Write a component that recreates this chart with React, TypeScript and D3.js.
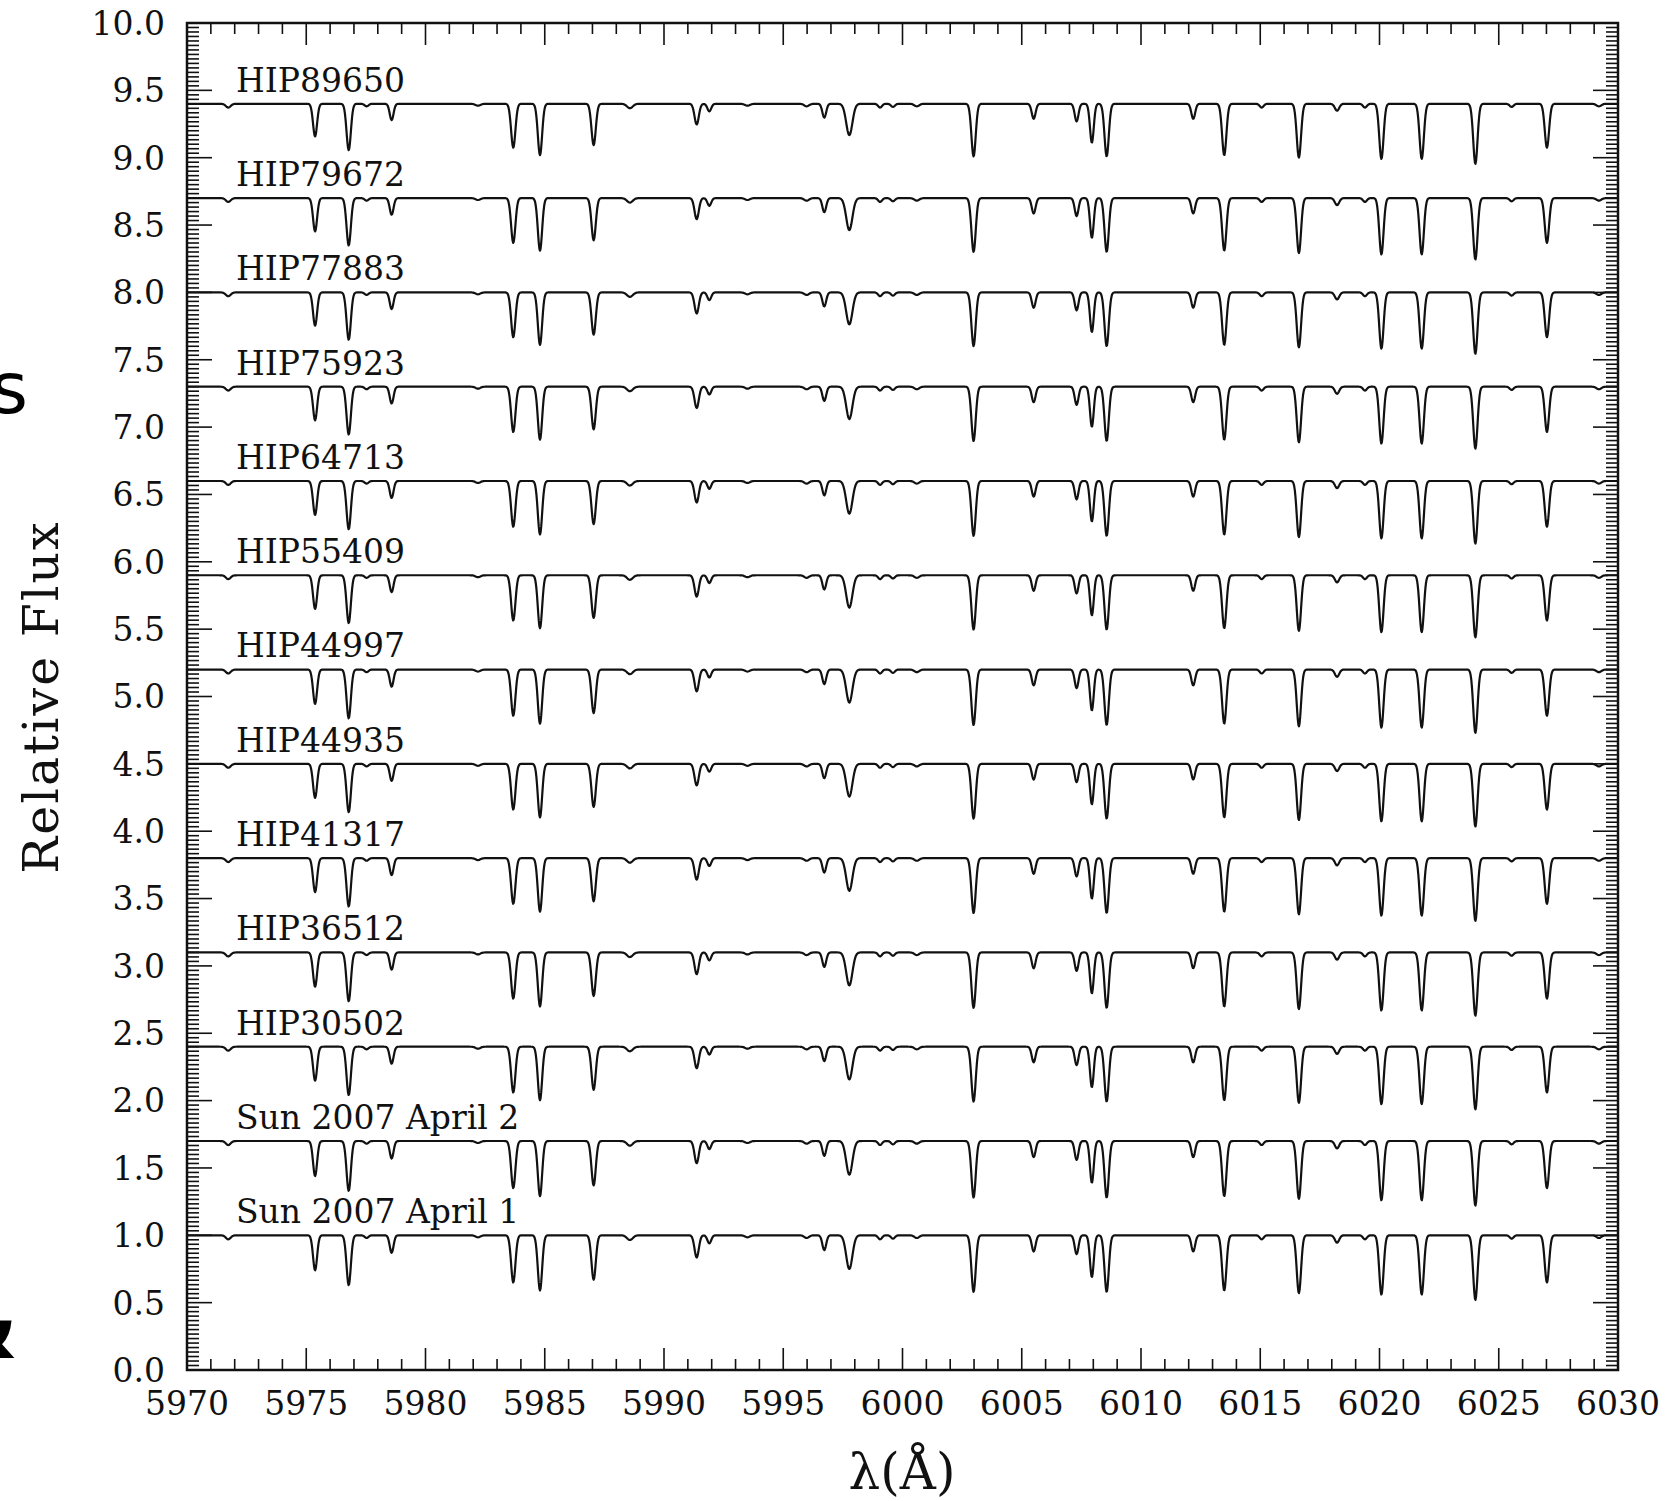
import React from "react";
import * as d3 from "d3";

// spectra, top to bottom
const STARS = [
  "HIP89650", "HIP79672", "HIP77883", "HIP75923", "HIP64713", "HIP55409",
  "HIP44997", "HIP44935", "HIP41317", "HIP36512", "HIP30502",
  "Sun 2007 April 2", "Sun 2007 April 1",
];
// continuum level of each spectrum (offset by 0.7)
const CONTINUUM = [9.4, 8.7, 8.0, 7.3, 6.6, 5.9, 5.2, 4.5, 3.8, 3.1, 2.4, 1.7, 1.0];
// how deep the lines look in each spectrum relative to the Sun
const DEPTH_SCALE = [0.93, 0.95, 0.95, 0.96, 0.97, 0.96, 0.98, 0.97, 0.97, 0.98, 0.97, 1.0, 1.0];

// absorption lines: centre (A), depth, gaussian sigma (A)
const LINE_CENTERS = [
  5971.73, 5975.37, 5976.78, 5977.53, 5978.58, 5982.2, 5983.68, 5984.80, 5987.05,
  5988.57, 5991.37, 5991.90, 5993.5, 5995.98, 5996.72, 5997.77, 5999.06, 5999.60,
  6000.60, 6002.98, 6005.50, 6007.30, 6007.94, 6008.56, 6012.19, 6013.49, 6015.06,
  6016.62, 6018.22, 6019.39, 6020.08, 6021.77, 6024.02, 6025.54, 6027.02, 6029.2,
];
const LINE_DEPTHS = [
  0.03, 0.26, 0.37, 0.02, 0.13, 0.015, 0.35, 0.41, 0.33,
  0.035, 0.165, 0.06, 0.015, 0.02, 0.11, 0.25, 0.03, 0.025,
  0.02, 0.42, 0.12, 0.14, 0.31, 0.42, 0.12, 0.41, 0.03,
  0.43, 0.055, 0.03, 0.44, 0.44, 0.48, 0.025, 0.35, 0.02,
];
const LINE_SIGMAS = [
  0.1, 0.085, 0.09, 0.08, 0.08, 0.1, 0.09, 0.09, 0.09,
  0.12, 0.09, 0.08, 0.1, 0.1, 0.08, 0.13, 0.08, 0.08,
  0.1, 0.09, 0.08, 0.08, 0.08, 0.09, 0.08, 0.09, 0.08,
  0.09, 0.09, 0.08, 0.09, 0.09, 0.09, 0.08, 0.09, 0.1,
];

const X_TICKS = [5970, 5975, 5980, 5985, 5990, 5995, 6000, 6005, 6010, 6015, 6020, 6025, 6030];
const Y_TICKS = [0, 0.5, 1, 1.5, 2, 2.5, 3, 3.5, 4, 4.5, 5, 5.5, 6, 6.5, 7, 7.5, 8, 8.5, 9, 9.5, 10];

const W = 1667;
const H = 1501;
const left = 187, right = 1618, top = 23, bottom = 1370;
const FONT = "'DejaVu Serif', serif";

export default function App() {
  const x = d3.scaleLinear().domain([5970, 6030]).range([left, right]);
  const y = d3.scaleLinear().domain([0, 10]).range([bottom, top]);

  const grid = d3.range(5970, 6030.0001, 0.025);
  const line = d3.line<[number, number]>().x(d => x(d[0])).y(d => y(d[1]));

  const spectrum = (i: number): [number, number][] =>
    grid.map(w => {
      let f = CONTINUUM[i];
      for (let k = 0; k < LINE_CENTERS.length; k++) {
        const u = (w - LINE_CENTERS[k]) / LINE_SIGMAS[k];
        f -= DEPTH_SCALE[i] * LINE_DEPTHS[k] * Math.exp(-0.5 * u * u);
      }
      return [w, f];
    });

  const xMinor = d3.range(5970, 6030.001, 1);
  const yMinor = d3.range(0, 10.0001, 0.5 / 15);

  return (
    <svg width={W} height={H} style={{ position: "absolute", left: 0, top: 0, background: "#fff" }}>
      <rect width={W} height={H} fill="#fff" />

      {/* bits of slide text cut off at the left edge */}
      <text x={28} y={413} fontFamily="'DejaVu Sans', sans-serif" fontSize={72} textAnchor="end">s</text>
      <text x={18} y={1358} fontFamily="'DejaVu Sans', sans-serif" fontSize={86} fontWeight="bold" textAnchor="end">&amp;</text>

      {/* spectra */}
      <g fill="none" stroke="#111" strokeWidth={2.2} strokeLinejoin="round">
        {STARS.map((s, i) => (
          <path key={s} d={line(spectrum(i)) || ""} />
        ))}
      </g>

      {/* star names */}
      <g fontFamily={FONT} fontSize={33} fill="#111">
        {STARS.map((s, i) => (
          <text key={s} x={x(5972.05)} y={y(CONTINUUM[i] + 0.09)}>{s}</text>
        ))}
      </g>

      {/* ticks */}
      <g stroke="#111" strokeWidth={1.6}>
        {xMinor.map(v => {
          const major = Math.abs(v % 5) < 1e-6;
          const len = major ? 22 : 11;
          return (
            <g key={"x" + v}>
              <line x1={x(v)} x2={x(v)} y1={bottom} y2={bottom - len} />
              <line x1={x(v)} x2={x(v)} y1={top} y2={top + len} />
            </g>
          );
        })}
        {yMinor.map((v, i) => {
          const major = i % 15 === 0;
          const len = major ? 25 : 12;
          return (
            <g key={"y" + i}>
              <line x1={left} x2={left + len} y1={y(v)} y2={y(v)} />
              <line x1={right} x2={right - len} y1={y(v)} y2={y(v)} />
            </g>
          );
        })}
      </g>

      {/* frame */}
      <rect x={left} y={top} width={right - left} height={bottom - top} fill="none" stroke="#111" strokeWidth={2.5} />

      {/* tick labels */}
      <g fontFamily={FONT} fontSize={33} fill="#111">
        {Y_TICKS.map(v => (
          <text key={v} x={165} y={y(v)} dy="0.36em" textAnchor="end">{d3.format(".1f")(v)}</text>
        ))}
        {X_TICKS.map(v => (
          <text key={v} x={x(v)} y={1415} textAnchor="middle">{v}</text>
        ))}
      </g>

      {/* axis titles */}
      <text transform="translate(58,697) rotate(-90)" fontFamily={FONT} fontSize={49} letterSpacing={2} textAnchor="middle" fill="#111">
        Relative Flux
      </text>
      <text x={902} y={1489} fontFamily={FONT} fontSize={50} textAnchor="middle" fill="#111">λ(Å)</text>
    </svg>
  );
}
